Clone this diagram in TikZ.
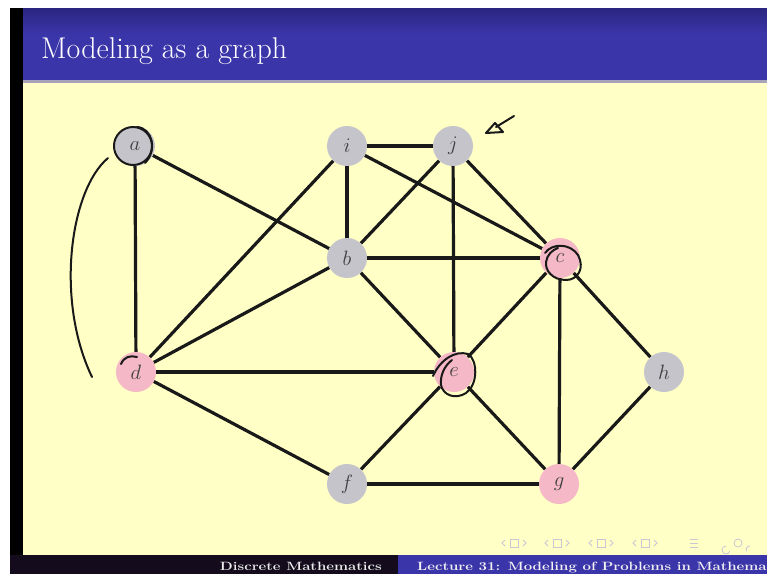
\documentclass[tikz,border=0pt]{standalone}
\usepackage{fontspec}
\usepackage{graphicx}
\usetikzlibrary{backgrounds}
\definecolor{cream}{HTML}{FFFFC6}
\definecolor{titleblue}{HTML}{3B35AA}
\definecolor{titledark}{HTML}{2A2580}
\definecolor{nodegray}{HTML}{C4C4CA}
\definecolor{nodepink}{HTML}{F5B8C6}
\definecolor{footblack}{HTML}{140C1C}
\definecolor{navgray}{HTML}{C9C6D6}
\begin{document}
\begin{tikzpicture}[x=1pt,y=-1pt,
  vtx/.style={circle, minimum size=40pt, inner sep=0pt, font=\fontsize{21}{21}\selectfont, text=black!75},
  gv/.style={vtx, fill=nodegray},
  pv/.style={vtx, fill=nodepink},
  edge/.style={line width=3.2pt, draw=black!90},
  ink/.style={line width=2pt, draw=black!90, line cap=round, line join=round},
  foot/.style={font=\bfseries\fontsize{12}{12}\selectfont},
  nav/.style={line width=0.8pt, draw=navgray}]
\useasboundingbox (0,0) rectangle (767,574);
\begin{scope}[on background layer]
  \fill[white] (0,0) rectangle (767,574);
  \fill[black] (10,8) rectangle (23,574);
  \fill[cream] (23,82) rectangle (767,555);
  \shade[top color=titledark, bottom color=titleblue] (23,8) rectangle (767,34);
  \fill[titleblue] (23,34) rectangle (767,80);
  \fill[titleblue!45!cream] (23,80) rectangle (767,83);
  \fill[footblack] (10,555) rectangle (398,574);
  \fill[titleblue] (398,555) rectangle (767,574);
\end{scope}

\node[anchor=base west, text=white, font=\fontsize{30}{30}\selectfont, inner sep=0pt] (title) at (41,58) {Modeling as a graph};
\node[anchor=base east, text=white!85!gray, foot, inner sep=0pt] (ft1) at (382,570) {\scalebox{1.25}[1]{Discrete Mathematics}};
\node[anchor=base west, text=white!90!gray, foot, inner sep=0pt] (ft2) at (417,570) {\scalebox{1.25}[1]{Lecture 31: Modeling of Problems in Mathematics}};

% vertices
\node[gv] (a) at (135,146) {$a$};
\node[gv] (i) at (347,146) {$i$};
\node[gv] (j) at (453,146) {$j$};
\node[gv] (b) at (347,258) {$b$};
\node[pv] (c) at (560,258) {$c$};
\node[pv] (d) at (136,372) {$d$};
\node[pv] (e) at (454,372) {$e$};
\node[gv] (h) at (664,372) {$h$};
\node[gv] (f) at (347,484) {$f$};
\node[pv] (g) at (559,484) {$g$};

\begin{scope}[on background layer]
  \draw[edge] (a) -- (d);
  \draw[edge] (a) -- (b);
  \draw[edge] (i) -- (j);
  \draw[edge] (i) -- (b);
  \draw[edge] (i) -- (d);
  \draw[edge] (i) -- (c);
  \draw[edge] (j) -- (b);
  \draw[edge] (j) -- (e);
  \draw[edge] (j) -- (c);
  \draw[edge] (b) -- (c);
  \draw[edge] (b) -- (d);
  \draw[edge] (b) -- (e);
  \draw[edge] (d) -- (e);
  \draw[edge] (d) -- (f);
  \draw[edge] (c) -- (e);
  \draw[edge] (c) -- (g);
  \draw[edge] (c) -- (h);
  \draw[edge] (e) -- (f);
  \draw[edge] (e) -- (g);
  \draw[edge] (f) -- (g);
  \draw[edge] (g) -- (h);
\end{scope}

% hand-drawn annotations
\draw[ink] (133,146) circle (19);
\draw[ink] (137,127) .. controls (152,128) and (158,150) .. (145,163);
\draw[ink] (108,158) .. controls (70,190) and (55,300) .. (92,377);
\draw[ink] (121,364) .. controls (124,357) and (130,355) .. (137,357);
\draw[ink] (433,376) .. controls (440,360) and (455,350) .. (468,354)
  .. controls (478,360) and (478,385) .. (466,393)
  .. controls (455,400) and (443,395) .. (441,385)
  .. controls (440,376) and (444,366) .. (452,360);
\draw[ink] (545,253) .. controls (552,243) and (570,243) .. (578,255)
  .. controls (585,268) and (578,280) .. (566,280)
  .. controls (552,280) and (545,270) .. (546,262)
  .. controls (547,255) and (552,250) .. (558,248);
\draw[ink] (514,116) -- (496,127);
\draw[ink] (495,123) -- (486,133) -- (503,132) -- cycle;

% navigation symbols
\foreach \x in {505,548,592,636} {
  \draw[nav] (\x,540) -- (\x-3,543) -- (\x,546);
  \draw[nav] (\x+5,539) rectangle (\x+13,547);
  \draw[nav] (\x+18,540) -- (\x+21,543) -- (\x+18,546);
}
\draw[nav] (690,539) -- (698,539) (690,543) -- (698,543) (690,547) -- (698,547);
\draw[nav] (726,546) arc[start angle=270, end angle=20, radius=4];
\draw[nav] (738,543) circle (4);
\draw[nav] (750,546) arc[start angle=270, end angle=160, radius=4];
\end{tikzpicture}
\end{document}
